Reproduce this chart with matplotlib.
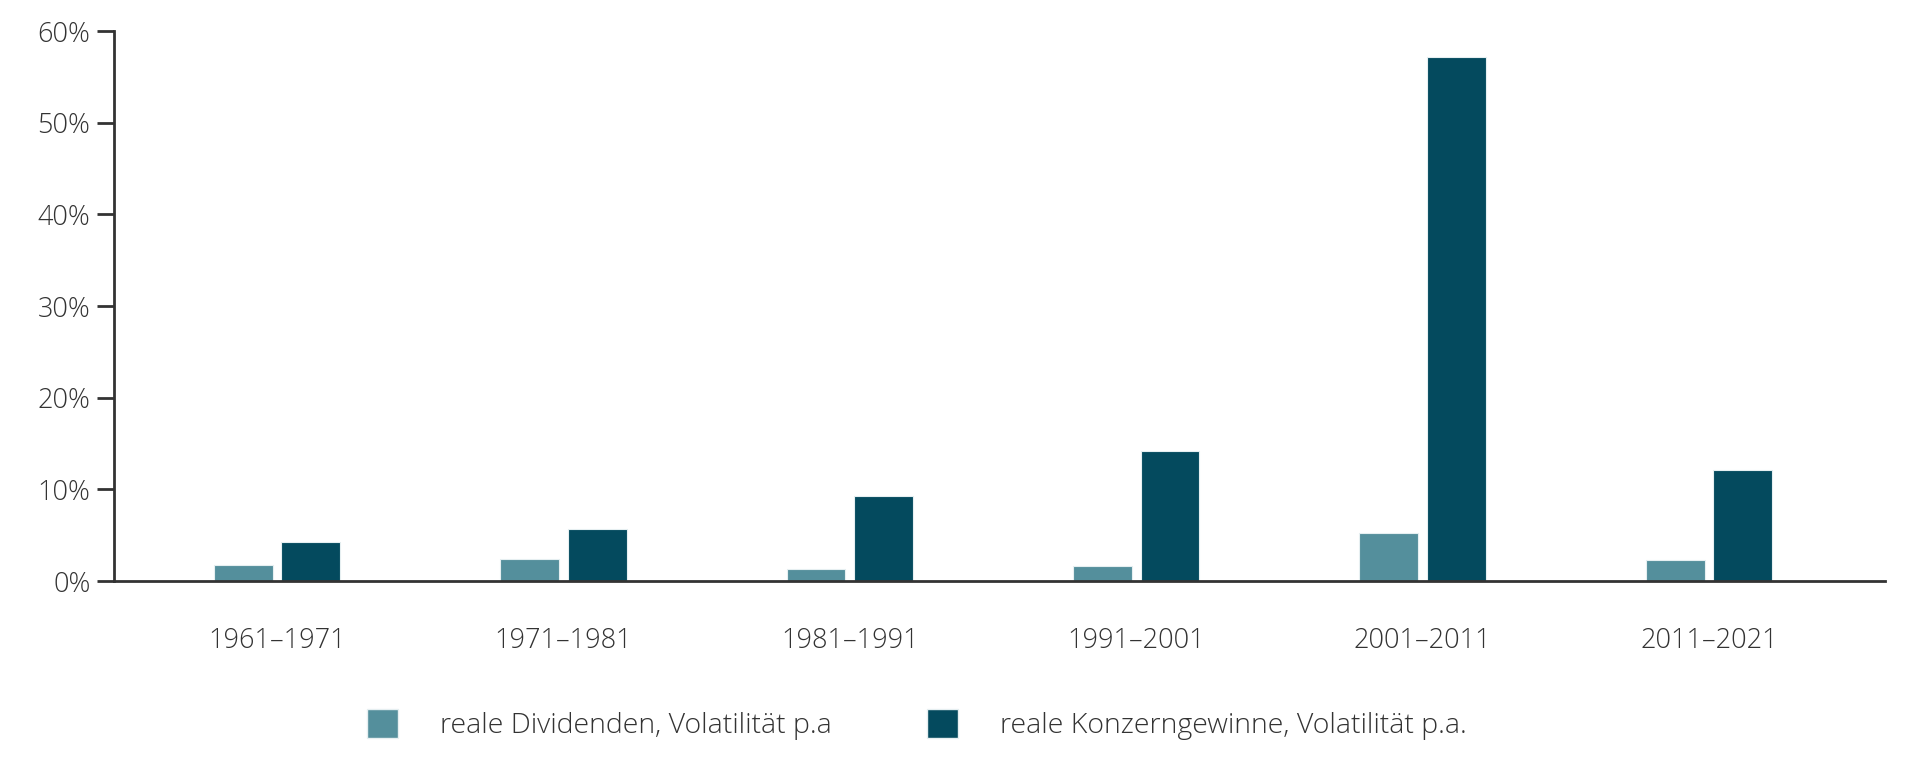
import numpy as np
import matplotlib
matplotlib.use('Agg')
import matplotlib.pyplot as plt
from matplotlib.patches import Patch

plt.rcParams['font.family'] = ['Open Sans', 'DejaVu Sans']

periods = ['1961–1971', '1971–1981', '1981–1991', '1991–2001', '2001–2011', '2011–2021']
dividends = [1.75, 2.4, 1.35, 1.6, 5.2, 2.3]   # reale Dividenden, Volatilität p.a
profits = [4.3, 5.7, 9.3, 14.2, 57.2, 12.1]     # reale Konzerngewinne, Volatilität p.a.
yticks = [0, 10, 20, 30, 40, 50, 60]

light = '#548f9c'
dark = '#044a5e'
txt = '#333333'

fig = plt.figure(figsize=(19.2, 7.6), dpi=100)
ax = fig.add_axes([0.0594, 0.2355, 0.9226, 0.7235])

x = np.arange(len(periods))
w = 0.205
ax.bar(x - 0.118, dividends, w, color=light, edgecolor='#e6eff1', linewidth=0.8)
ax.bar(x + 0.118, profits, w, color=dark, edgecolor='#e6eff1', linewidth=0.8)

ax.set_xlim(-0.569, 5.616)
ax.set_ylim(0, 60)
ax.set_yticks(yticks)
ax.set_yticklabels([f'{t}%' for t in yticks], fontsize=19.5, color=txt, fontweight='light')
ax.set_xticks(x)
ax.set_xticklabels(periods, fontsize=19.5, color=txt, fontweight='light')

for s in ['top', 'right']:
    ax.spines[s].set_visible(False)
for s in ['left', 'bottom']:
    ax.spines[s].set_color(txt)
    ax.spines[s].set_linewidth(2)
ax.tick_params(axis='y', length=12, width=2, color=txt, pad=5)
ax.tick_params(axis='x', length=0, pad=33)

handles = [Patch(facecolor=light, edgecolor='#e6eff1', label='reale Dividenden, Volatilität p.a'),
           Patch(facecolor=dark, edgecolor='#e6eff1', label='reale Konzerngewinne, Volatilität p.a.')]
leg = fig.legend(handles=handles, loc='center', bbox_to_anchor=(0.4777, 0.047), ncol=2,
                 frameon=False, fontsize=20.5, handlelength=1.06, handleheight=1.2,
                 handletextpad=1.5, columnspacing=3.35)
for t in leg.get_texts():
    t.set_color(txt)
    t.set_fontweight('light')

fig.savefig('out.png', dpi=100, facecolor='white')
